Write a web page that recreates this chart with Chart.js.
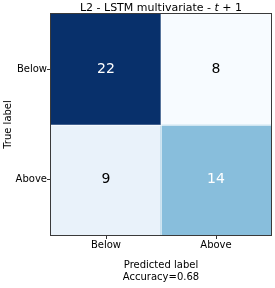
<!DOCTYPE html>
<html>
<head>
<meta charset="utf-8">
<script src="https://cdn.jsdelivr.net/npm/chart.js@4.4.0/dist/chart.umd.min.js"></script>
<style>
  html, body { margin: 0; padding: 0; background: #fff; }
  #wrap { width: 275px; height: 288px; }
</style>
</head>
<body>
<div id="wrap"><canvas id="cm" width="275" height="288"></canvas></div>
<script>
// Confusion matrix values (rows = true label, columns = predicted label)
const predictedLabels = ['Below', 'Above'];
const trueLabels = ['Below', 'Above'];
const rowBelow = [22, 8];
const rowAbove = [9, 14];
const accuracy = 0.68;

const FONT = "'DejaVu Sans', sans-serif";

// matplotlib "Blues" colormap
const bluesStops = ['#f7fbff', '#deebf7', '#c6dbef', '#9ecae1', '#6baed6', '#4292c6', '#2171b5', '#08519c', '#08306b'];
function blues(t) {
  t = Math.max(0, Math.min(1, t));
  const pos = t * (bluesStops.length - 1);
  const i = Math.min(Math.floor(pos), bluesStops.length - 2);
  const f = pos - i;
  const a = bluesStops[i], b = bluesStops[i + 1];
  const c = k => {
    const va = parseInt(a.substr(1 + k * 2, 2), 16);
    const vb = parseInt(b.substr(1 + k * 2, 2), 16);
    return Math.round(va + (vb - va) * f);
  };
  return `rgb(${c(0)},${c(1)},${c(2)})`;
}

const rows = [rowBelow, rowAbove];
const allVals = rows.flat();
const vmin = Math.min(...allVals), vmax = Math.max(...allVals);
const thresh = vmax / 2;

// one floating-bar dataset per true-label row, top row first
const datasets = rows.map((vals, i) => {
  const lo = trueLabels.length - 1 - i;
  return {
    label: trueLabels[i],
    data: vals.map(() => [lo, lo + 1]),
    counts: vals,
    backgroundColor: vals.map(v => blues((v - vmin) / (vmax - vmin))),
    borderWidth: 0,
    barPercentage: 1,
    categoryPercentage: 1
  };
});

// cell numbers, dividers, frame and title
const cellPlugin = {
  id: 'cellPlugin',
  afterDatasetsDraw(chart) {
    const ctx = chart.ctx;
    const a = chart.chartArea;
    ctx.save();
    // thin light dividers between cells
    ctx.strokeStyle = 'rgba(255,255,255,0.6)';
    ctx.lineWidth = 1;
    const xs = chart.scales.x, ys = chart.scales.y;
    ctx.beginPath();
    const mx = Math.round((xs.getPixelForValue(0) + xs.getPixelForValue(1)) / 2) + 0.5;
    const my = Math.round(ys.getPixelForValue(1)) + 0.5;
    ctx.moveTo(mx, a.top); ctx.lineTo(mx, a.bottom);
    ctx.moveTo(a.left, my); ctx.lineTo(a.right, my);
    ctx.stroke();

    ctx.font = `14px ${FONT}`;
    ctx.textAlign = 'center';
    ctx.textBaseline = 'middle';
    chart.data.datasets.forEach((ds, di) => {
      chart.getDatasetMeta(di).data.forEach((bar, j) => {
        const v = ds.counts[j];
        const cy = (bar.y + bar.base) / 2;
        ctx.fillStyle = v > thresh ? '#ffffff' : '#000000';
        ctx.fillText(String(v), bar.x, cy);
      });
    });

    // axes frame
    ctx.strokeStyle = '#3a3a3a';
    ctx.lineWidth = 1;
    ctx.strokeRect(a.left - 0.5, a.top - 0.5, a.right - a.left + 1, a.bottom - a.top + 1);

    // title with italic t
    const parts = [
      { t: 'L2 - LSTM multivariate - ', f: `11px ${FONT}` },
      { t: 't', f: `italic 11px ${FONT}` },
      { t: ' + 1', f: `11px ${FONT}` }
    ];
    let w = 0;
    parts.forEach(p => { ctx.font = p.f; w += ctx.measureText(p.t).width; });
    let x = (a.left + a.right) / 2 - w / 2;
    ctx.fillStyle = '#000';
    ctx.textAlign = 'left';
    ctx.textBaseline = 'alphabetic';
    parts.forEach(p => {
      ctx.font = p.f;
      ctx.fillText(p.t, x, 11);
      x += ctx.measureText(p.t).width;
    });
    ctx.restore();
  }
};

new Chart(document.getElementById('cm').getContext('2d'), {
  type: 'bar',
  data: { labels: predictedLabels, datasets },
  options: {
    responsive: false,
    animation: false,
    layout: { padding: { top: 14, right: 4, left: 0, bottom: 0 } },
    plugins: { legend: { display: false }, tooltip: { enabled: false } },
    scales: {
      x: {
        stacked: true,
        offset: true,
        afterFit: s => { s.height = 53; },
        grid: { display: true, offset: false, drawOnChartArea: false, tickLength: 4, tickColor: '#333', tickWidth: 1 },
        border: { display: false },
        ticks: { color: '#000', padding: 0, font: { family: FONT, size: 10 } },
        title: {
          display: true,
          text: ['Predicted label', 'Accuracy=' + accuracy.toFixed(2)],
          color: '#000',
          font: { family: FONT, size: 10, lineHeight: 1.2 },
          padding: { top: 0, bottom: 5 }
        }
      },
      y: {
        type: 'linear',
        stacked: false,
        min: 0,
        max: trueLabels.length,
        afterFit: s => { s.width = 51; },
        afterBuildTicks: s => {
          s.ticks = trueLabels.map((_, i) => ({ value: trueLabels.length - 1 - i + 0.5 }));
        },
        grid: { display: true, drawOnChartArea: false, tickLength: 4, tickColor: '#333', tickWidth: 1 },
        border: { display: false },
        ticks: {
          color: '#000',
          padding: 0,
          font: { family: FONT, size: 10 },
          callback: v => trueLabels[trueLabels.length - 1 - Math.floor(v)]
        },
        title: {
          display: true,
          text: 'True label',
          color: '#000',
          font: { family: FONT, size: 10, lineHeight: 1.2 },
          padding: { top: 2, bottom: 0 }
        }
      }
    }
  },
  plugins: [cellPlugin]
});
</script>
</body>
</html>
